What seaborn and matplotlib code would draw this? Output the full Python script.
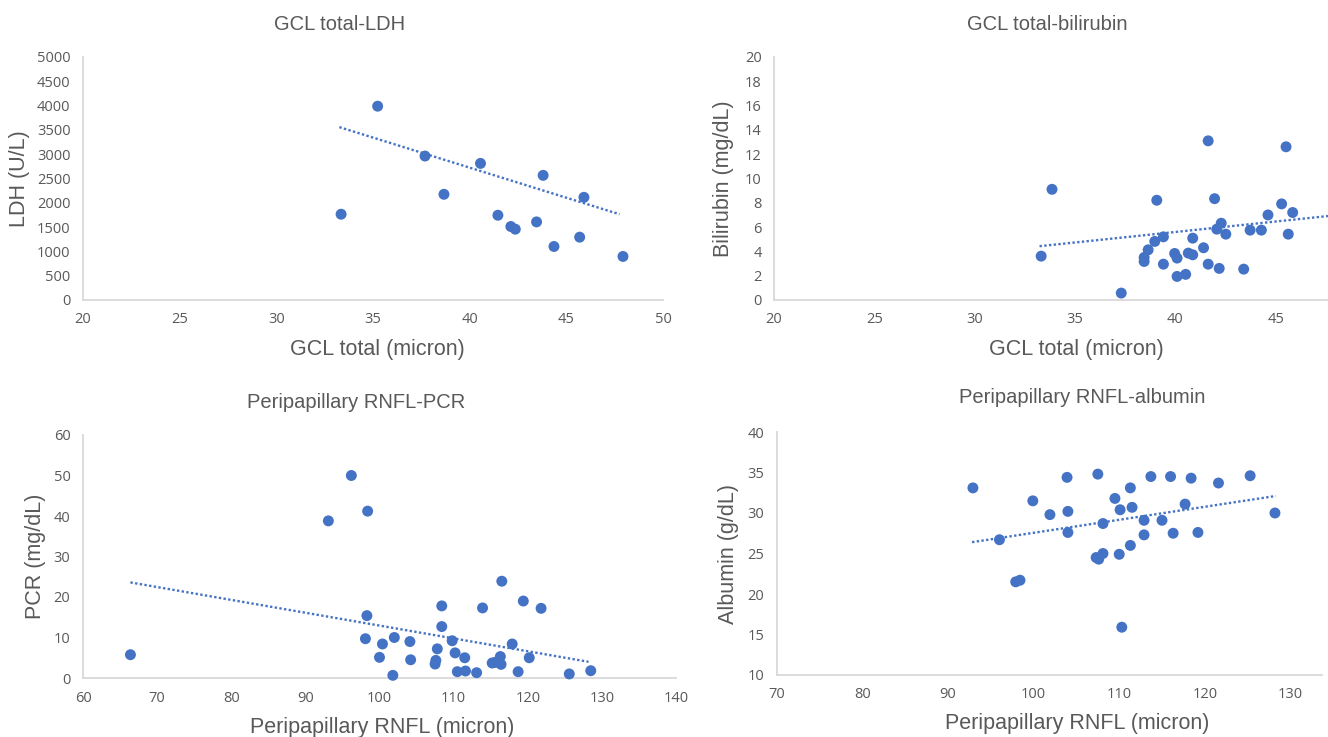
import numpy as np
import pandas as pd
import matplotlib
matplotlib.use("Agg")
import matplotlib.pyplot as plt
import seaborn as sns

# ---------------- data ----------------
gcl_ldh_x = [33.35, 35.24, 37.69, 38.67, 40.56, 41.46, 42.13, 42.36, 43.80, 43.46, 44.36, 45.69, 45.91, 47.93]
ldh_y = [1765, 3988, 2962, 2175, 2811, 1744, 1512, 1457, 2565, 1607, 1101, 1293, 2113, 896]

gcl_bil_x = [33.31, 33.85, 37.30, 38.44, 38.44, 38.64, 38.97, 39.07, 39.40, 39.40, 39.96, 40.08, 40.08,
             40.51, 40.64, 40.86, 40.86, 41.40, 41.63, 41.63, 41.95, 42.06, 42.18, 42.28, 42.51, 43.40,
             43.72, 44.28, 44.61, 45.29, 45.51, 45.62, 45.84]
bilirubin_y = [3.61, 9.11, 0.57, 3.50, 3.17, 4.13, 4.82, 8.21, 5.20, 2.95, 3.83, 3.45, 1.94,
               2.11, 3.86, 5.09, 3.72, 4.30, 13.10, 2.95, 8.34, 5.83, 2.60, 6.32, 5.42, 2.54,
               5.75, 5.75, 7.00, 7.91, 12.61, 5.42, 7.20]

rnfl_pcr_x = [66.4, 93.1, 96.2, 98.4, 98.3, 98.1, 100.0, 100.4, 102.0, 101.8, 104.1, 104.2, 107.5,
              107.6, 107.8, 108.4, 108.4, 109.8, 110.2, 110.5, 111.5, 111.6, 113.1, 113.9, 115.2,
              115.6, 116.3, 116.4, 116.5, 117.9, 118.7, 119.4, 120.2, 121.8, 125.6, 128.5]
pcr_y = [5.75, 38.8, 50.0, 41.2, 15.4, 9.7, 5.1, 8.4, 10.0, 0.66, 9.0, 4.5, 3.45,
         4.35, 7.2, 17.8, 12.7, 9.2, 6.2, 1.56, 5.0, 1.73, 1.31, 17.3, 3.7,
         3.86, 5.3, 3.37, 23.9, 8.4, 1.56, 19.0, 5.0, 17.2, 1.0, 1.8]

rnfl_alb_x = [92.9, 96.0, 97.9, 98.4, 99.9, 101.9, 103.9, 104.0, 104.0, 107.3, 107.5, 107.6, 108.1,
              108.1, 109.5, 110.0, 110.1, 110.3, 111.3, 111.3, 111.5, 112.9, 112.9, 113.7, 115.0,
              116.0, 116.3, 117.7, 118.4, 119.2, 121.6, 125.3, 128.2]
albumin_y = [33.1, 26.7, 21.5, 21.7, 31.5, 29.8, 34.4, 30.2, 27.6, 24.5, 34.8, 24.3, 25.0,
             28.7, 31.8, 24.9, 30.4, 15.9, 33.1, 26.0, 30.7, 29.1, 27.3, 34.5, 29.1,
             34.5, 27.5, 31.1, 34.3, 27.6, 33.7, 34.6, 30.0]

# linear trendlines as drawn in the source (start / end points)
ldh_trend_x = [33.26, 47.75]
ldh_trend_y = [3557, 1765]
bil_trend_x = [33.23, 47.6]
bil_trend_y = [4.43, 6.91]
pcr_trend_x = [66.4, 128.2]
pcr_trend_y = [23.6, 4.0]
alb_trend_x = [92.8, 128.3]
alb_trend_y = [26.4, 32.1]

titles = ["GCL total-LDH", "GCL total-bilirubin", "Peripapillary RNFL-PCR", "Peripapillary RNFL-albumin"]
xlabels = ["GCL total (micron)", "GCL total (micron)", "Peripapillary RNFL (micron)", "Peripapillary RNFL (micron)"]
ylabels = ["LDH (U/L)", "Bilirubin (mg/dL)", "PCR (mg/dL)", "Albumin (g/dL)"]
xticks_list = [list(range(20, 51, 5)), list(range(20, 46, 5)), list(range(60, 141, 10)), list(range(70, 131, 10))]
yticks_list = [list(range(0, 5001, 500)), list(range(0, 21, 2)), list(range(0, 61, 10)), list(range(10, 41, 5))]

# ---------------- style ----------------
sns.set_theme(style="white")
plt.rcParams["font.family"] = ["Liberation Sans", "DejaVu Sans"]

BLUE = "#4472C4"
GRAY_TXT = "#595959"
SPINE = "#d9d9d9"

W, H = 1328, 737
fig = plt.figure(figsize=(W / 100, H / 100), dpi=100)

# axes boxes in pixels: left, right, top, bottom
boxes = [(83, 663, 57, 300), (774, 1328, 57, 300), (83, 676, 435, 678), (777, 1322, 432, 675)]
xlims = [(20, 50), (20, 47.6), (60, 140), (70, 133.7)]
ylims = [(0, 5000), (0, 20), (0, 60), (10, 40)]
title_x = [0.443, 0.493, 0.46, 0.56]
title_off = [33, 33, 33, 35]
xlab_x = [0.508, 0.545, 0.504, 0.55]
xlab_off = [50, 50, 50, 49]
ylab_off = [63, 50, 48, 48]

datasets = [(gcl_ldh_x, ldh_y), (gcl_bil_x, bilirubin_y), (rnfl_pcr_x, pcr_y), (rnfl_alb_x, albumin_y)]
trends = [(ldh_trend_x, ldh_trend_y), (bil_trend_x, bil_trend_y),
          (pcr_trend_x, pcr_trend_y), (alb_trend_x, alb_trend_y)]

for i, (xs, ys) in enumerate(datasets):
    l, r, t, b = boxes[i]
    ax = fig.add_axes([l / W, 1 - b / H, (r - l) / W, (b - t) / H])
    df = pd.DataFrame({"x": xs, "y": ys})
    tdf = pd.DataFrame({"x": trends[i][0], "y": trends[i][1]})

    sns.lineplot(data=tdf, x="x", y="y", ax=ax, color=BLUE, linewidth=1.7,
                 linestyle=(0, (1, 1)), zorder=2)
    sns.scatterplot(data=df, x="x", y="y", ax=ax, color=BLUE, s=62, edgecolor="none",
                    linewidth=0, zorder=3, clip_on=False)

    ax.set_xlim(*xlims[i])
    ax.set_ylim(*ylims[i])
    ax.set_xticks(xticks_list[i])
    ax.set_yticks(yticks_list[i])
    ax.tick_params(axis="both", length=0, labelsize=10.5, labelcolor=GRAY_TXT, pad=9)
    for lab in ax.get_xticklabels() + ax.get_yticklabels():
        lab.set_family(["Open Sans", "DejaVu Sans"])

    for side in ["top", "right"]:
        ax.spines[side].set_visible(False)
    for side in ["left", "bottom"]:
        ax.spines[side].set_color(SPINE)
        ax.spines[side].set_linewidth(1.3)
    ax.grid(False)
    ax.set_xlabel("")
    ax.set_ylabel("")

    hpx = b - t
    wpx = r - l
    ax.text(title_x[i], 1 + title_off[i] / hpx, titles[i], transform=ax.transAxes,
            ha="center", va="center", fontsize=14.5, color=GRAY_TXT)
    ax.text(xlab_x[i], -xlab_off[i] / hpx, xlabels[i], transform=ax.transAxes,
            ha="center", va="center", fontsize=15.5, color=GRAY_TXT)
    ax.text(-ylab_off[i] / wpx, 0.5, ylabels[i], transform=ax.transAxes, rotation=90,
            ha="center", va="center", fontsize=15.5, color=GRAY_TXT)

fig.savefig("out.png", dpi=100, facecolor="white")
